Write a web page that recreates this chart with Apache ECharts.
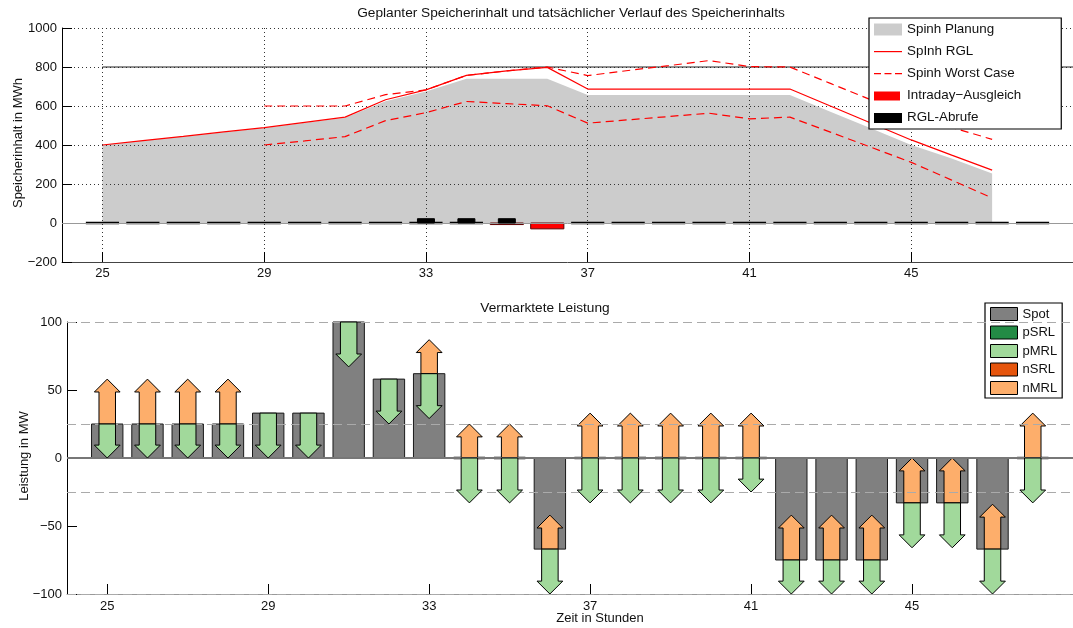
<!DOCTYPE html>
<html>
<head>
<meta charset="utf-8">
<script src="https://cdn.jsdelivr.net/npm/echarts@6/dist/echarts.min.js"></script>
<style>
  html, body { margin: 0; padding: 0; background: #fff; }
  #chart { width: 1073px; height: 628px; }
</style>
</head>
<body>
<div id="chart"></div>
<script>
// ---- Speicherinhalt (MWh), Stunden 25..47 ----
const stundenInhalt = [25,26,27,28,29,30,31,32,33,34,35,36,37,38,39,40,41,42,43,44,45,46,47];
const spinhPlanung  = [400,422,444,466,487,514,540,625,675,740,740,740,657,657,657,657,657,657,571,486,400,331,254];
const spinhRGL      = [400,422,444,467,489,516,543,632,683,757,780,798,687,687,687,687,687,687,600,513,426,348,271];

// ---- Worst-Case-Verlauf, Stunden 29..47 ----
const stundenWorst = [29,30,31,32,33,34,35,36,37,38,39,40,41,42,43,44,45,46,47];
const worstOben    = [600,600,600,658,683,757,780,800,756,782,807,833,802,800,716,632,556,490,429];
const worstUnten   = [400,421,443,525,566,623,612,601,512,529,546,563,534,543,466,389,311,220,128];

// ---- Stündliche Balken, Stunden 25..48 ----
const stunden   = [25,26,27,28,29,30,31,32,33,34,35,36,37,38,39,40,41,42,43,44,45,46,47,48];
const intraday  = [0,0,0,0,0,0,0,0,0,0,-8,-30,0,0,0,0,0,0,0,0,0,0,0,0];
const rglAbrufe = [0,0,0,0,0,0,0,0,22,22,22,0,0,0,0,0,0,0,0,0,0,0,0,0];
const speicherMax = 800;

// ---- Vermarktete Leistung (MW) ----
const spot = [25,25,25,25,33,33,100,58,62,0,0,-67,0,0,0,0,0,-75,-75,-75,-33,-33,-67,0];
const pSRL = [0,0,0,0,0,0,0,0,0,0,0,0,0,0,0,0,0,0,0,0,0,0,0,0];
const pMRL = [25,25,25,25,33,33,33,33,33,33,33,33,33,33,33,33,25,25,25,25,33,33,33,33];
const nSRL = [0,0,0,0,0,0,0,0,0,0,0,0,0,0,0,0,0,0,0,0,0,0,0,0];
const nMRL = [33,33,33,33,0,0,0,0,25,25,25,25,33,33,33,33,33,33,33,33,33,33,33,33];

const xTicks = [25,29,33,37,41,45];
const leistungsGrenzen = [100,25,-25,-100];

const FONT = '"Liberation Sans", Arial, Helvetica, sans-serif';
const pairs = (xs, ys) => xs.map((x, i) => [x, ys[i]]);
const minusZeichen = v => String(v).replace('-', '\u2212');

// Balken (Rechteck) an einer Stunde; Nullwerte erscheinen als schwarze Kante auf der Nulllinie
function balken(widthFrac, fill, stroke, zeroEdge) {
  return function (params, api) {
    const x = api.value(0), v = api.value(1);
    const w = api.size([widthFrac, 0])[0];
    const p0 = api.coord([x, 0]);
    const p1 = api.coord([x, v]);
    if (v === 0) {
      if (!zeroEdge) return null;
      return { type: 'line',
        shape: { x1: p0[0] - w / 2, y1: p0[1], x2: p0[0] + w / 2, y2: p0[1] },
        style: { stroke: '#000', lineWidth: 2.4 } };
    }
    return { type: 'rect',
      shape: { x: p0[0] - w / 2, y: Math.min(p0[1], p1[1]), width: w, height: Math.abs(p1[1] - p0[1]) },
      style: { fill: fill, stroke: stroke, lineWidth: 1 } };
  };
}

// Pfeil ab dem Spot-Niveau nach oben (dir=1) bzw. unten (dir=-1)
function pfeil(dir, fill) {
  return function (params, api) {
    const x = api.value(0), base = api.value(1), len = api.value(2);
    if (!len) return null;
    const h = api.size([1, 0])[0];
    const sw = 0.205 * h, hw = 0.32 * h, hl = 0.32 * h;
    const b = api.coord([x, base]);
    const t = api.coord([x, base + dir * len]);
    const cx = b[0], y0 = b[1], y1 = t[1];
    const yh = y1 + (dir > 0 ? hl : -hl);
    return { type: 'polygon',
      shape: { points: [[cx - sw, y0], [cx - sw, yh], [cx - hw, yh], [cx, y1], [cx + hw, yh], [cx + sw, yh], [cx + sw, y0]] },
      style: { fill: fill, stroke: '#000', lineWidth: 1 } };
  };
}

const chart = echarts.init(document.getElementById('chart'), null, { renderer: 'canvas' });

const axisText = { color: '#111', fontSize: 13, fontFamily: FONT, formatter: minusZeichen };

const option = {
  animation: false,
  textStyle: { fontFamily: FONT },
  grid: [
    { left: 62, top: 28, width: 1018, height: 234 },
    { left: 67, top: 322, width: 1018, height: 272 }
  ],
  xAxis: [
    { type: 'value', gridIndex: 0, min: 24, max: 49,
      axisLine: { onZero: false, lineStyle: { color: '#444', width: 1 } },
      axisTick: { inside: true, length: 10, customValues: xTicks, lineStyle: { color: '#000' } },
      axisLabel: { customValues: xTicks, margin: 5, ...axisText },
      splitLine: { show: true, lineStyle: { color: '#333', type: [1, 3], width: 1 } } },
    { type: 'value', gridIndex: 1, min: 24, max: 49,
      axisLine: { onZero: false, lineStyle: { color: '#999', width: 1 } },
      axisTick: { inside: true, length: 10, customValues: xTicks, lineStyle: { color: '#000' } },
      axisLabel: { customValues: xTicks, margin: 6, ...axisText },
      splitLine: { show: false } }
  ],
  yAxis: [
    { type: 'value', gridIndex: 0, min: -200, max: 1000, interval: 200,
      axisLine: { show: true, lineStyle: { color: '#000', width: 1 } },
      axisTick: { show: true, inside: true, length: 10, lineStyle: { color: '#000' } },
      axisLabel: { margin: 5, ...axisText },
      splitLine: { show: true, lineStyle: { color: '#333', type: [1, 3], width: 1 } } },
    { type: 'value', gridIndex: 1, min: -100, max: 100, interval: 50,
      axisLine: { show: true, lineStyle: { color: '#000', width: 1 } },
      axisTick: { show: true, inside: true, length: 10, lineStyle: { color: '#000' } },
      axisLabel: { margin: 5, ...axisText },
      splitLine: { show: false } }
  ],
  legend: [
    { orient: 'vertical', left: 869, top: 18, itemWidth: 28, itemHeight: 12, itemGap: 9,
      padding: [5, 40, 5, 5], backgroundColor: '#fff', borderColor: '#000', borderWidth: 1.2,
      textStyle: { fontSize: 13.4, color: '#111', fontFamily: FONT },
      selectedMode: false,
      data: [
        { name: 'Spinh Planung', icon: 'rect' },
        { name: 'SpInh RGL', icon: 'path://M0,0M0,5.5h28v1.2h-28zM28,12' },
        { name: 'Spinh Worst Case', icon: 'path://M0,0M0,5.5h7v1.2h-7zM10.5,5.5h7v1.2h-7zM21,5.5h7v1.2h-7zM28,12' },
        { name: 'Intraday\u2212Ausgleich', icon: 'path://M0,0M0,2h26v9h-26zM28,12' },
        { name: 'RGL-Abrufe', icon: 'path://M0,0M0,1.5h28v10h-28zM28,12' }
      ] },
    { orient: 'vertical', left: 985, top: 303, itemWidth: 27, itemHeight: 13, itemGap: 4.5,
      padding: [4, 5, 3, 5], backgroundColor: '#fff', borderColor: '#000', borderWidth: 1.2,
      textStyle: { fontSize: 13, color: '#111', fontFamily: FONT },
      itemStyle: { borderColor: '#000', borderWidth: 1 },
      selectedMode: false,
      data: ['Spot', 'pSRL', 'pMRL', 'nSRL', 'nMRL'].map(n => ({ name: n, icon: 'rect' })) }
  ],
  graphic: [
    { type: 'text', x: 571, y: 13, style: { text: 'Geplanter Speicherinhalt und tatsächlicher Verlauf des Speicherinhalts',
      fontSize: 13.7, fontFamily: FONT, fill: '#111', align: 'center', verticalAlign: 'middle' } },
    { type: 'text', x: 545, y: 308, style: { text: 'Vermarktete Leistung',
      fontSize: 13.7, fontFamily: FONT, fill: '#111', align: 'center', verticalAlign: 'middle' } },
    { type: 'text', x: 600, y: 618, style: { text: 'Zeit in Stunden',
      fontSize: 13, fontFamily: FONT, fill: '#111', align: 'center', verticalAlign: 'middle' } },
    { type: 'text', x: 18, y: 143, rotation: Math.PI / 2, style: { text: 'Speicherinhalt in MWh',
      fontSize: 13, fontFamily: FONT, fill: '#111', align: 'center', verticalAlign: 'middle' } },
    { type: 'text', x: 24, y: 456, rotation: Math.PI / 2, style: { text: 'Leistung in MW',
      fontSize: 13, fontFamily: FONT, fill: '#111', align: 'center', verticalAlign: 'middle' } }
  ],
  series: [
    // ---- oberes Diagramm ----
    { name: 'Spinh Planung', type: 'line', xAxisIndex: 0, yAxisIndex: 0, z: -1,
      data: pairs(stundenInhalt, spinhPlanung), symbol: 'none',
      itemStyle: { color: '#cccccc' }, lineStyle: { width: 0 },
      areaStyle: { color: '#cccccc', opacity: 1, origin: 0 } },
    { name: 'Speichergrenze', type: 'line', xAxisIndex: 0, yAxisIndex: 0, z: 2, silent: true,
      data: [[25, speicherMax], [49, speicherMax]], symbol: 'none',
      lineStyle: { color: '#222', width: 1 },
      markLine: { silent: true, symbol: 'none', label: { show: false },
        lineStyle: { color: '#999', width: 1, type: 'solid' }, data: [{ yAxis: 0 }] } },
    { name: 'SpInh RGL', type: 'line', xAxisIndex: 0, yAxisIndex: 0, z: 3,
      data: pairs(stundenInhalt, spinhRGL), symbol: 'none',
      itemStyle: { color: '#ff0000' }, lineStyle: { color: '#ff0000', width: 1.2 } },
    { name: 'Spinh Worst Case', type: 'line', xAxisIndex: 0, yAxisIndex: 0, z: 3,
      data: pairs(stundenWorst, worstOben), symbol: 'none',
      itemStyle: { color: '#ff0000' }, lineStyle: { color: '#ff0000', width: 1.2, type: [8, 5] } },
    { name: 'Spinh Worst Case', type: 'line', xAxisIndex: 0, yAxisIndex: 0, z: 3,
      data: pairs(stundenWorst, worstUnten), symbol: 'none',
      itemStyle: { color: '#ff0000' }, lineStyle: { color: '#ff0000', width: 1.2, type: [8, 5] } },
    { name: 'Intraday\u2212Ausgleich', type: 'custom', xAxisIndex: 0, yAxisIndex: 0, z: 4,
      itemStyle: { color: '#ff0000' },
      data: pairs(stunden, intraday), encode: { x: 0, y: 1 },
      renderItem: balken(0.82, '#ff0000', '#5a0000', true) },
    { name: 'RGL-Abrufe', type: 'custom', xAxisIndex: 0, yAxisIndex: 0, z: 5,
      itemStyle: { color: '#000000' },
      data: pairs(stunden, rglAbrufe), encode: { x: 0, y: 1 },
      renderItem: balken(0.42, '#000000', '#000000', false) },

    // ---- unteres Diagramm ----
    { name: 'pSRL', type: 'custom', xAxisIndex: 1, yAxisIndex: 1, z: 1,
      itemStyle: { color: '#238b45' },
      data: stunden.map((h, i) => [h, spot[i], pSRL[i]]), encode: { x: 0, y: 1 },
      renderItem: pfeil(-1, '#238b45'),
      markLine: { silent: true, symbol: 'none', label: { show: false },
        data: leistungsGrenzen.map(v => ({ yAxis: v, lineStyle: { color: '#aaa', width: 1, type: [9, 5] } }))
          .concat([{ yAxis: 0, lineStyle: { color: '#777', width: 2, type: 'solid' } }]) } },
    { name: 'nSRL', type: 'custom', xAxisIndex: 1, yAxisIndex: 1, z: 1,
      itemStyle: { color: '#e6550d' },
      data: stunden.map((h, i) => [h, spot[i], nSRL[i]]), encode: { x: 0, y: 1 },
      renderItem: pfeil(1, '#e6550d') },
    { name: 'Spot', type: 'custom', xAxisIndex: 1, yAxisIndex: 1, z: 3,
      itemStyle: { color: '#808080' },
      data: pairs(stunden, spot), encode: { x: 0, y: 1 },
      renderItem: balken(0.78, '#808080', '#1a1a1a', true) },
    { name: 'nMRL', type: 'custom', xAxisIndex: 1, yAxisIndex: 1, z: 4,
      itemStyle: { color: '#fdae6b' },
      data: stunden.map((h, i) => [h, spot[i], nMRL[i]]), encode: { x: 0, y: 1 },
      renderItem: pfeil(1, '#fdae6b') },
    { name: 'pMRL', type: 'custom', xAxisIndex: 1, yAxisIndex: 1, z: 5,
      itemStyle: { color: '#a1d99b' },
      data: stunden.map((h, i) => [h, spot[i], pMRL[i]]), encode: { x: 0, y: 1 },
      renderItem: pfeil(-1, '#a1d99b') }
  ]
};

chart.setOption(option);
</script>
</body>
</html>
